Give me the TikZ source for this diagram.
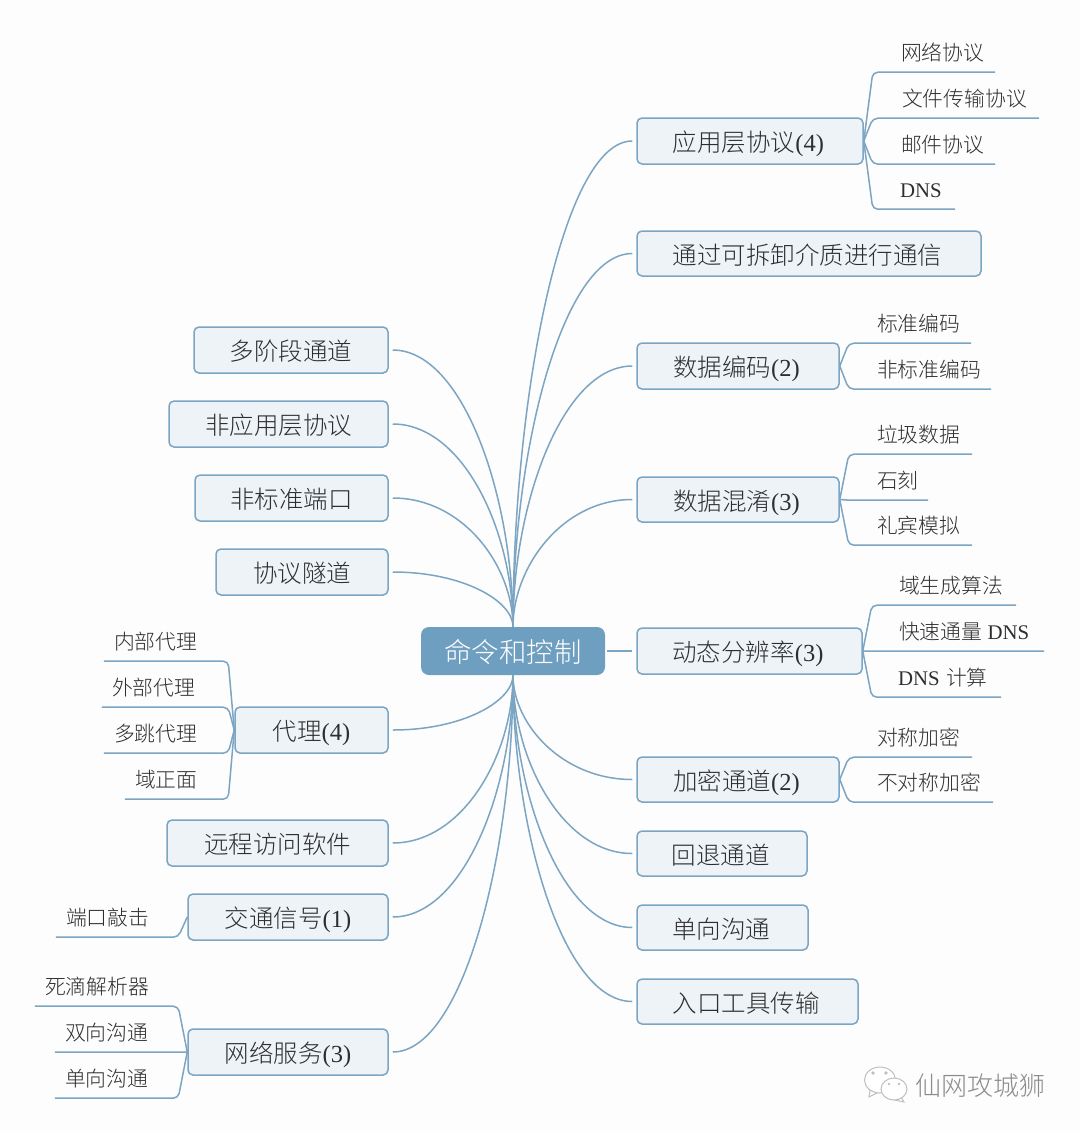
\documentclass[tikz,border=0pt]{standalone}
\usepackage{fontspec}
\usetikzlibrary{calc}
\setmainfont{Noto Sans CJK SC Light}
\newfontfamily\lat{Liberation Serif}
\definecolor{edgeblue}{HTML}{7BA5C2}
\definecolor{rootblue}{HTML}{6F9FC0}
\definecolor{boxfill}{HTML}{EEF3F8}
\definecolor{inktext}{HTML}{2E2E2E}
\definecolor{sheet}{HTML}{FDFDFD}
\tikzset{
  topic/.style={draw=edgeblue,fill=boxfill,line width=1.5pt,rounded corners=5pt,inner sep=0pt,
    text height=21pt,text depth=0pt,
    font=\fontsize{24.5}{26}\selectfont,text=inktext},
  centre/.style={fill=rootblue,rounded corners=8pt,inner sep=0pt,
    text height=23pt,text depth=0pt,
    font=\fontsize{27.4}{30}\selectfont,text=white},
  leaflabel/.style={inner sep=0pt,minimum height=40pt,align=left,
    text height=17pt,text depth=0pt,
    font=\fontsize{20.8}{22}\selectfont,text=inktext},
  link/.style={draw=edgeblue,line width=1.5pt},
  branch/.style={link,rounded corners=5pt},
}
% box given by left, top, right, bottom
\newcommand{\topicbox}[6]{\node[topic,minimum width={#3-#1},minimum height={#4-#2}] (#6) at ({(#1+#3)/2},{(#2+#4)/2}) {#5};}
% the same, with the label set a little to the left of centre
\newcommand{\topicboxR}[6]{\topicbox{#1}{#2}{#3}{#4}{\hspace*{-3pt}#5}{#6}}
% leaf over a rule from x0 to x1 at height y, text inset by pad; the rule starts at the parent's side
\newcommand{\leafR}[7]{\node[leaflabel,text width={#3-#2}] (#1) at ({(#2+#3)/2},{#4-20}) {\hspace*{#5pt}#6};
  \draw[branch] (#7.east) -- (#1.south west) -- (#1.south east);}
\newcommand{\leafL}[7]{\node[leaflabel,text width={#3-#2}] (#1) at ({(#2+#3)/2},{#4-20}) {\hspace*{#5pt}#6};
  \draw[branch] (#7.west) -- (#1.south east) -- (#1.south west);}
% curved link: leaves the first anchor vertically, arrives at the second horizontally
\newcommand{\spoke}[2]{\draw[link,shorten >=4pt] (#1) .. controls ($(#1)!.47!(#1|-#2)$) and ($(#2)!.6!(#2-|#1)$) .. (#2);}
\newcommand{\la}[1]{{\lat #1}}
\begin{document}
\begin{tikzpicture}[x=1pt,y=-1pt]
\fill[sheet] (0,0) rectangle (1080,1133);
\useasboundingbox (0,0) rectangle (1080,1133);

\node[centre,minimum width=184pt,minimum height=48pt] (root) at (513,651) {命令和控制};

% right-hand topics
\topicboxR{637}{118}{863}{164}{应用层协议\la{(4)}}{r1}
\topicboxR{637}{231}{981}{276}{通过可拆卸介质进行通信}{r2}
\topicboxR{637}{343}{839}{389}{数据编码\la{(2)}}{r3}
\topicboxR{637}{477}{839}{522}{数据混淆\la{(3)}}{r4}
\topicboxR{637}{628}{862}{674}{动态分辨率\la{(3)}}{r5}
\topicboxR{637}{757}{839}{802}{加密通道\la{(2)}}{r6}
\topicboxR{637}{831}{807}{876}{回退通道}{r7}
\topicboxR{637}{905}{808}{950}{单向沟通}{r8}
\topicboxR{637}{979}{858}{1024}{入口工具传输}{r9}

% left-hand topics
\topicbox{194}{327}{388}{373}{多阶段通道}{l1}
\topicbox{169}{401}{388}{447}{非应用层协议}{l2}
\topicbox{195}{475}{388}{521}{非标准端口}{l3}
\topicbox{216}{549}{388}{595}{协议隧道}{l4}
\topicbox{235}{707}{388}{753}{代理\la{(4)}}{l5}
\topicbox{167}{820}{388}{866}{远程访问软件}{l6}
\topicbox{188}{894}{388}{940}{交通信号\la{(1)}}{l7}
\topicbox{188}{1029}{388}{1075}{网络服务\la{(3)}}{l8}

% links from the centre
\foreach \n in {r1,r2,r3,r4} {\spoke{root.north}{\n.west}}
\foreach \n in {r6,r7,r8,r9} {\spoke{root.south}{\n.west}}
\foreach \n in {l1,l2,l3,l4} {\spoke{root.north}{\n.east}}
\foreach \n in {l5,l6,l7,l8} {\spoke{root.south}{\n.east}}
\draw[link,shorten >=4pt,shorten <=2pt] (root.east) -- (r5.west);

% right-hand leaves
\leafR{a1}{873}{995}{72}{28}{网络协议}{r1}
\leafR{a2}{873}{1039}{118}{29}{文件传输协议}{r1}
\leafR{a3}{873}{995}{164}{28}{邮件协议}{r1}
\leafR{a4}{873}{955}{209}{27}{\la{DNS}}{r1}
\leafR{b1}{849}{971}{343}{28}{标准编码}{r3}
\leafR{b2}{849}{991}{389}{28}{非标准编码}{r3}
\leafR{c1}{849}{972}{454}{28}{垃圾数据}{r4}
\leafR{c2}{849}{928}{500}{28}{石刻}{r4}
\leafR{c3}{849}{972}{545}{28}{礼宾模拟}{r4}
\leafR{d1}{872}{1016}{605}{27}{域生成算法}{r5}
\leafR{d2}{872}{1044}{651}{27}{快速通量\hspace{5.5pt}\la{DNS}}{r5}
\leafR{d3}{872}{1001}{697}{26}{\la{DNS}\hspace{6.5pt}计算}{r5}
\leafR{e1}{849}{972}{757}{28}{对称加密}{r6}
\leafR{e2}{849}{993}{802}{28}{不对称加密}{r6}

% left-hand leaves
\leafL{f1}{104}{228}{661}{10}{内部代理}{l5}
\leafL{f2}{102}{228}{707}{10}{外部代理}{l5}
\leafL{f3}{104}{228}{753}{10}{多跳代理}{l5}
\leafL{f4}{125}{228}{799}{10}{域正面}{l5}
\leafL{g1}{56}{178}{937}{10}{端口敲击}{l7}
\leafL{h1}{35}{178}{1006}{10}{死滴解析器}{l8}
\leafL{h2}{55}{178}{1052}{10}{双向沟通}{l8}
\leafL{h3}{55}{178}{1098}{10}{单向沟通}{l8}

% account mark in the lower right corner
\begin{scope}[draw=black!25,line width=1pt,fill=white]
  \filldraw (870,1090) -- (869,1097) -- (879,1092) -- cycle;
  \filldraw (880,1080) ellipse [x radius=15.5,y radius=13];
  \filldraw (901,1097) -- (904,1102) -- (895,1100) -- cycle;
  \filldraw (894,1089) ellipse [x radius=13,y radius=11];
  \fill[black!25] (873,1073) circle (1.8) (886,1073) circle (1.8)
                  (889,1084) circle (1.4) (899,1084) circle (1.4);
\end{scope}
\node[inner sep=0pt,text=black!45,font=\fontsize{26}{28}\selectfont] (mark) at (980,1086) {仙网攻城狮};
\end{tikzpicture}
\end{document}
